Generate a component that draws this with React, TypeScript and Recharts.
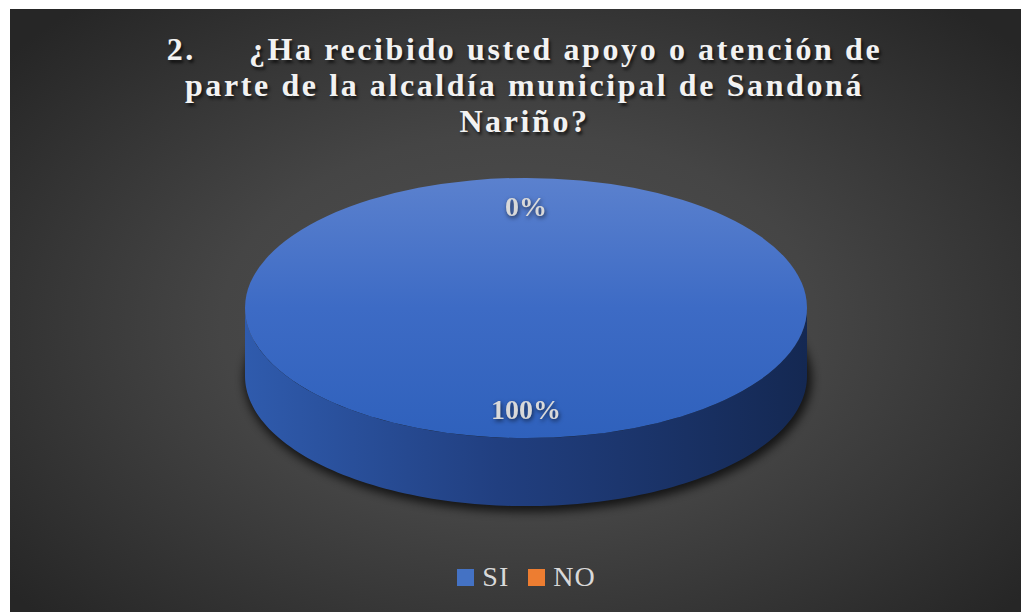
import { PieChart, Pie, Legend } from 'recharts';

const categories = ['SI', 'NO'];
const values = [100, 0];
const colors = ['#4472C4', '#ED7D31'];
const titleLines = [
  '2.\u00a0\u00a0\u00a0\u00a0\u00a0¿Ha recibido usted apoyo o atención de',
  'parte de la alcaldía municipal de Sandoná',
  'Nariño?',
];

const data = categories.map((name, i) => ({ name, value: values[i], fill: colors[i] }));

const W = 1017;
const H = 604;
const TILT = 0.463;
const DEPTH = 68;
const SERIF = '"Liberation Serif", "Times New Roman", serif';

const topStops = [
  ['#5B81CE', '#3D6BC5', '#2F61BC'],
  ['#F39A5E', '#ED7D31', '#D86A22'],
];
const sideStops = [
  ['#2F5BAD', '#213F80', '#142852'],
  ['#C0621F', '#9A4C15', '#6E350D'],
];

function ellipsePt(cx: number, cy: number, r: number, deg: number) {
  const a = (deg * Math.PI) / 180;
  return [cx + r * Math.cos(a), cy - TILT * r * Math.sin(a)];
}

function Slice3D(props: any) {
  const { cx, cy, outerRadius: r, startAngle, endAngle, index } = props;
  const span = endAngle - startAngle;
  if (Math.abs(span) < 0.01) return <g />;
  const steps = Math.max(8, Math.ceil(Math.abs(span) / 1.5));
  const top: number[][] = [];
  const front: number[][] = [];
  for (let i = 0; i <= steps; i++) {
    const deg = startAngle + (span * i) / steps;
    const p = ellipsePt(cx, cy, r, deg);
    top.push(p);
    if (Math.sin((deg * Math.PI) / 180) <= 1e-6) front.push(p);
  }
  const full = Math.abs(span) >= 359.99;
  const ry = TILT * r;
  const topPath = full
    ? `M ${cx - r} ${cy} A ${r} ${ry} 0 1 0 ${cx + r} ${cy} A ${r} ${ry} 0 1 0 ${cx - r} ${cy} Z`
    : `M ${cx} ${cy} ` + top.map((p) => `L ${p[0]} ${p[1]}`).join(' ') + ' Z';
  let wallPath = '';
  if (front.length > 1) {
    const bottom = front.map((p) => [p[0], p[1] + DEPTH]).reverse();
    wallPath =
      `M ${front[0][0]} ${front[0][1]} ` +
      front.slice(1).map((p) => `L ${p[0]} ${p[1]}`).join(' ') +
      ' ' +
      bottom.map((p) => `L ${p[0]} ${p[1]}`).join(' ') +
      ' Z';
  }
  const ts = topStops[index % topStops.length];
  const ss = sideStops[index % sideStops.length];
  return (
    <g>
      <defs>
        <linearGradient id={`top-${index}`} x1="0" y1="0" x2="0" y2="1">
          <stop offset="0%" stopColor={ts[0]} />
          <stop offset="50%" stopColor={ts[1]} />
          <stop offset="100%" stopColor={ts[2]} />
        </linearGradient>
        <linearGradient id={`side-${index}`} x1="0" y1="0" x2="1" y2="0">
          <stop offset="0%" stopColor={ss[0]} />
          <stop offset="45%" stopColor={ss[1]} />
          <stop offset="100%" stopColor={ss[2]} />
        </linearGradient>
        <filter id={`shadow-${index}`} x="-20%" y="-40%" width="140%" height="180%">
          <feGaussianBlur stdDeviation="5" />
        </filter>
      </defs>
      {full && (
        <ellipse
          cx={cx + 2}
          cy={cy + DEPTH + 3}
          rx={r + 3}
          ry={ry + 3}
          fill="#000"
          opacity={0.7}
          filter={`url(#shadow-${index})`}
        />
      )}
      {wallPath && <path d={wallPath} fill={`url(#side-${index})`} />}
      <path d={topPath} fill={`url(#top-${index})`} />
    </g>
  );
}

const renderLabel = (p: any) => {
  const { cx, cy, midAngle, outerRadius, percent } = p;
  const [x, y] = ellipsePt(cx, cy, outerRadius * 0.78, midAngle);
  return (
    <text
      x={x}
      y={y}
      textAnchor="middle"
      dominantBaseline="central"
      fill="#D9D9D9"
      fontFamily={SERIF}
      fontWeight="bold"
      fontSize={28}
      style={{ filter: 'drop-shadow(1px 2px 2px rgba(0,0,0,0.6))' }}
    >
      {`${Math.round(percent * 100)}%`}
    </text>
  );
};

const renderLegend = (props: any) => {
  const items = [...(props.payload || [])].sort(
    (a: any, b: any) => categories.indexOf(a.value) - categories.indexOf(b.value)
  );
  return (
    <div style={{ display: 'flex', justifyContent: 'center', paddingLeft: 16, gap: 19 }}>
      {items.map((entry: any) => (
        <div key={entry.value} style={{ display: 'flex', alignItems: 'center' }}>
          <span
            style={{ display: 'inline-block', width: 17, height: 17, background: entry.color, marginRight: 8 }}
          />
          <span
            style={{ fontFamily: SERIF, fontSize: 28, letterSpacing: 1, color: '#D9D9D9', lineHeight: '30px' }}
          >
            {entry.value}
          </span>
        </div>
      ))}
    </div>
  );
};

export default function App() {
  return (
    <div
      style={{
        position: 'relative',
        left: 2,
        top: 1,
        width: W,
        height: H,
        background: 'radial-gradient(ellipse 65% 70% at 50% 52%, #505050 0%, #454545 45%, #262626 100%)',
      }}
    >
      <div
        style={{
          position: 'absolute',
          left: 6,
          top: 22,
          width: W,
          textAlign: 'center',
          fontFamily: SERIF,
          fontWeight: 'bold',
          fontSize: 32,
          letterSpacing: 2.6,
          lineHeight: '36px',
          color: '#F2F2F2',
          textShadow: '2px 3px 3px rgba(0,0,0,0.6)',
        }}
      >
        {titleLines.map((line) => (
          <div key={line}>{line}</div>
        ))}
      </div>
      <PieChart width={W} height={H} margin={{ top: 0, right: 0, bottom: 0, left: 0 }}>
        <Pie
          data={data}
          dataKey="value"
          nameKey="name"
          cx={516}
          cy={299}
          outerRadius={281}
          startAngle={90}
          endAngle={-270}
          stroke="none"
          shape={Slice3D}
          label={renderLabel}
          labelLine={false}
          isAnimationActive={false}
        />
        <Legend
          content={renderLegend}
          wrapperStyle={{ position: 'absolute', top: 553, left: 0, width: W }}
        />
      </PieChart>
    </div>
  );
}
